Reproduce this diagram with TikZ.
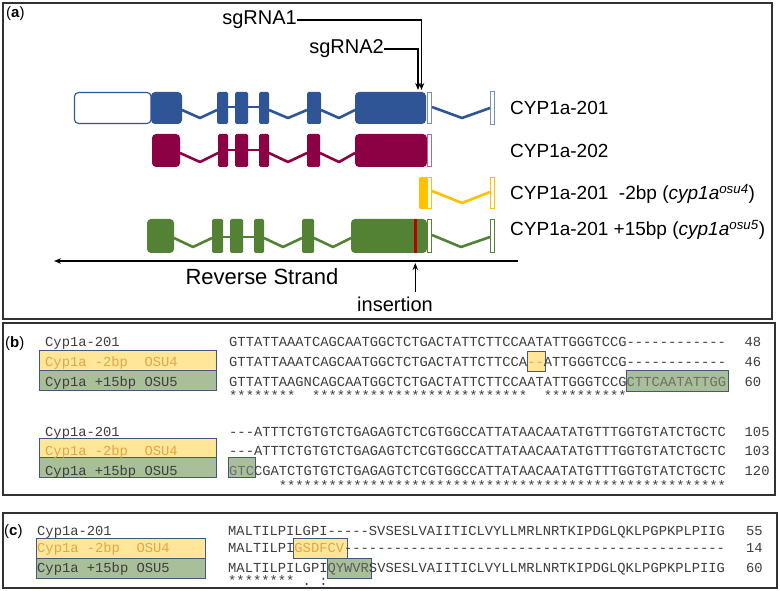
\documentclass[tikz,border=0pt]{standalone}
\usepackage{fontspec}
\setmainfont{Liberation Sans}
\newfontfamily\seqfont[Ligatures=TeXOff]{Liberation Mono}
\usetikzlibrary{arrows.meta}
\definecolor{gblue}{RGB}{47,85,151}
\definecolor{gmaroon}{RGB}{140,0,68}
\definecolor{gyellow}{RGB}{255,192,0}
\definecolor{ggreen}{RGB}{84,130,53}
\definecolor{gred}{RGB}{192,0,0}
\definecolor{lyellow}{RGB}{255,230,153}
\definecolor{lgreen}{RGB}{168,191,153}
\definecolor{boxedge}{RGB}{65,90,120}
\definecolor{seqgray}{RGB}{62,62,62}
\definecolor{ytext}{RGB}{222,168,72}
\definecolor{framec}{RGB}{50,50,50}
\begin{document}
\begin{tikzpicture}[x=1pt,y=-1pt,
  panel/.style={draw=framec,line width=1.3pt},
  bigex/.style={rounded corners=4pt},
  smex/.style={rounded corners=1.5pt},
  intron/.style={line width=2.6pt,line join=round},
  utr/.style={line width=1.1pt,fill=white},
  arr/.style={line width=1.4pt,-{Stealth[length=7pt,width=5.5pt]}},
  lbl/.style={anchor=base west,inner sep=0pt,font=\fontsize{19}{22}\selectfont},
  plabel/.style={anchor=base west,inner sep=0pt,font=\fontsize{15}{18}\selectfont},
  seq/.style={anchor=base west,inner sep=0pt,font=\seqfont\fontsize{13.8}{16}\selectfont,text=seqgray},
  hlY/.style={fill=lyellow,draw=boxedge,line width=1pt},
  hlG/.style={fill=lgreen,draw=boxedge,line width=1pt}]
\useasboundingbox (0,0) rectangle (780,591);
\fill[white] (0,0) rectangle (780,591);

% ---------------- panel (a)
\draw[panel] (3,3) rectangle (772,319);
\node[plabel] (pa) at (6,18) {(\textbf{a})};

% row 1 (blue)
\draw[utr,draw=gblue,rounded corners=4pt] (74.5,92.5) rectangle (151,123.5);
\fill[gblue,bigex] (151,92) rectangle (182,124);
\fill[gblue,smex] (217,92) rectangle (228,124);
\fill[gblue,smex] (235,92) rectangle (248,124);
\fill[gblue,smex] (259,92) rectangle (269,124);
\fill[gblue,smex] (307,92) rectangle (321,124);
\fill[gblue,bigex] (355,92) rectangle (426,124);
\draw[gblue,intron] (182,110) -- (200,118) -- (217,110);
\draw[gblue,intron] (228,107) -- (235,107) (248,107) -- (259,107);
\draw[gblue,intron] (269,110) -- (288,118) -- (307,110);
\draw[gblue,intron] (321,110) -- (339,118) -- (355,110);
\draw[gblue,intron] (432,107) -- (462,118) -- (490,108);
\draw[utr,draw=gblue!65] (427.5,92.5) rectangle (431.5,123.5);
\draw[utr,draw=gblue!65] (490.5,91.5) rectangle (494.5,124.5);
\node[lbl] (l201) at (510,114.8) {CYP1a-201};

% row 2 (maroon)
\fill[gmaroon,bigex] (152,134) rectangle (180,167);
\fill[gmaroon,smex] (218,134) rectangle (228,167);
\fill[gmaroon,smex] (235,134) rectangle (248,167);
\fill[gmaroon,smex] (259,134) rectangle (269,167);
\fill[gmaroon,smex] (307,134) rectangle (320,167);
\fill[gmaroon,bigex] (355,134) rectangle (427,167);
\draw[gmaroon,intron] (180,153) -- (200,162) -- (218,153);
\draw[gmaroon,intron] (228,150) -- (235,150) (248,150) -- (259,150);
\draw[gmaroon,intron] (269,153) -- (288,162) -- (307,153);
\draw[gmaroon,intron] (320,153) -- (339,162) -- (355,153);
\draw[utr,draw=gmaroon!60] (427.5,134.5) rectangle (431.5,166.5);
\node[lbl] (l202) at (510,158) {CYP1a-202};

% row 3 (yellow)
\fill[gyellow,smex] (419,177) rectangle (427.5,209);
\draw[gyellow,intron] (432,191) -- (462,203) -- (490,192);
\draw[utr,draw=gyellow] (427.5,177.5) rectangle (431.5,208.5);
\draw[utr,draw=gyellow] (490.5,177.5) rectangle (494.5,208.5);
\node[lbl] (losu4) at (510,199.5) {CYP1a-201~ -2bp (\textit{cyp1a}\textsuperscript{\textit{osu4}})};

% row 4 (green)
\fill[ggreen,bigex] (147,219) rectangle (174,253);
\fill[ggreen,smex] (212,219) rectangle (223,253);
\fill[ggreen,smex] (230,219) rectangle (243,253);
\fill[ggreen,smex] (254,219) rectangle (264,253);
\fill[ggreen,smex] (302,219) rectangle (314,253);
\fill[ggreen,bigex] (351,219) rectangle (427,253);
\fill[gred] (413.8,219) rectangle (416.8,253);
\draw[ggreen,intron] (174,238) -- (193,247) -- (212,238);
\draw[ggreen,intron] (223,237) -- (230,237) (243,237) -- (254,237);
\draw[ggreen,intron] (264,238) -- (283,247) -- (302,238);
\draw[ggreen,intron] (314,238) -- (333,247) -- (351,238);
\draw[ggreen,intron] (432,235) -- (461,247) -- (490,237);
\draw[utr,draw=ggreen] (427.5,219.5) rectangle (431.5,252.5);
\draw[utr,draw=ggreen] (490.5,219.5) rectangle (494.5,252.5);
\node[lbl] (losu5) at (510,235.5) {CYP1a-201 +15bp (\textit{cyp1a}\textsuperscript{\textit{osu5}})};

% sgRNA arrows
\node[anchor=east,inner sep=0pt,font=\fontsize{20}{24}\selectfont] (sg1) at (297,20) {sgRNA1};
\node[anchor=east,inner sep=0pt,font=\fontsize{20}{24}\selectfont] (sg2) at (384,49) {sgRNA2};
\coordinate (t1) at (421.5,90);
\coordinate (t2) at (418,90);
\draw[arr] (sg1.east) -| (t1);
\draw[arr] (sg2.east) -| (t2);

% reverse strand
\coordinate (rsR) at (518,261);
\coordinate (rsL) at (54,261);
\draw[arr] (rsR) -- (rsL);
\node[anchor=base,inner sep=0pt,font=\fontsize{22}{26}\selectfont] (rs) at (262,284.5) {Reverse Strand};

% insertion
\node[anchor=base,inner sep=0pt,font=\fontsize{20}{24}\selectfont] (ins) at (395,311) {insertion};
\coordinate (insB) at (415.3,292);
\coordinate (insT) at (415.3,263);
\draw[arr] (insB) -- (insT);

% ---------------- panel (b)
\draw[panel] (3,323) rectangle (775,495);
\node[plabel] (pb) at (5,347.5) {(\textbf{b})};

\draw[hlY] (39,350) rectangle (216,370);
\draw[hlG] (39,370) rectangle (216,390);
\draw[hlY] (39,438) rectangle (216,457);
\draw[hlG] (39,457) rectangle (216,477);
\draw[hlY] (527,351) rectangle (545,371);
\draw[hlG] (626.5,370) rectangle (728,391);
\draw[hlG] (228.5,457) rectangle (255,477);

\node[seq] (nb1) at (45,346) {Cyp1a-201};
\node[seq,text=ytext] (nb2) at (45,366) {Cyp1a -2bp~ OSU4};
\node[seq] (nb3) at (45,386) {Cyp1a +15bp OSU5};
\node[seq] (sb1) at (229,346) {GTTATTAAATCAGCAATGGCTCTGACTATTCTTCCAATATTGGGTCCG------------};
\node[seq] (sb2) at (229,366) {GTTATTAAATCAGCAATGGCTCTGACTATTCTTCCA\textcolor{ytext}{--}ATTGGGTCCG------------};
\node[seq] (sb3) at (229,386) {GTTATTAAGNCAGCAATGGCTCTGACTATTCTTCCAATATTGGGTCCG\textcolor{seqgray!75}{CTTCAATATTGG}};
\node[seq] (sbs) at (229,400.5) {********~~**************************~~**********};
\node[seq] (kb1) at (744.5,346) {48};
\node[seq] (kb2) at (744.5,366) {46};
\node[seq] (kb3) at (744.5,386) {60};

\node[seq] (nb4) at (45,436) {Cyp1a-201};
\node[seq,text=ytext] (nb5) at (45,455.5) {Cyp1a -2bp~ OSU4};
\node[seq] (nb6) at (45,475) {Cyp1a +15bp OSU5};
\node[seq] (sb4) at (229,436) {---ATTTCTGTGTCTGAGAGTCTCGTGGCCATTATAACAATATGTTTGGTGTATCTGCTC};
\node[seq] (sb5) at (229,455.5) {---ATTTCTGTGTCTGAGAGTCTCGTGGCCATTATAACAATATGTTTGGTGTATCTGCTC};
\node[seq] (sb6) at (229,475) {\textcolor{seqgray!75}{GTC}CGATCTGTGTCTGAGAGTCTCGTGGCCATTATAACAATATGTTTGGTGTATCTGCTC};
\node[seq] (sbs2) at (278.7,490.5) {******************************************************};
\node[seq] (kb4) at (744.5,436) {105};
\node[seq] (kb5) at (744.5,455.5) {103};
\node[seq] (kb6) at (744.5,475) {120};

% ---------------- panel (c)
\draw[panel] (3,513) rectangle (777,588);
\node[plabel] (pc) at (4,535) {(\textbf{c})};

\draw[hlY] (36,538) rectangle (205,558);
\draw[hlG] (36,558) rectangle (205,578);
\draw[hlY] (293.5,538) rectangle (347.5,558);
\draw[hlG] (327,558) rectangle (371,578);

\node[seq] (nc1) at (37,535) {Cyp1a-201};
\node[seq,text=ytext] (nc2) at (37,552.5) {Cyp1a -2bp~ OSU4};
\node[seq] (nc3) at (37,572) {Cyp1a +15bp OSU5};
\node[seq] (sc1) at (228,535) {MALTILPILGPI-----SVSESLVAIITICLVYLLMRLNRTKIPDGLQKLPGPKPLPIIG};
\node[seq] (sc2) at (228,552.5) {MALTILPI\textcolor{ytext}{GSDFCV}----------------------------------------------};
\node[seq] (sc3) at (228,572) {MALTILPILGPI\textcolor{seqgray!85}{QYWVR}SVSESLVAIITICLVYLLMRLNRTKIPDGLQKLPGPKPLPIIG};
\node[seq] (scs) at (228,585.5) {********~.~:};
\node[seq] (kc1) at (746,535) {55};
\node[seq] (kc2) at (746,552.5) {14};
\node[seq] (kc3) at (746,572) {60};
\end{tikzpicture}
\end{document}
